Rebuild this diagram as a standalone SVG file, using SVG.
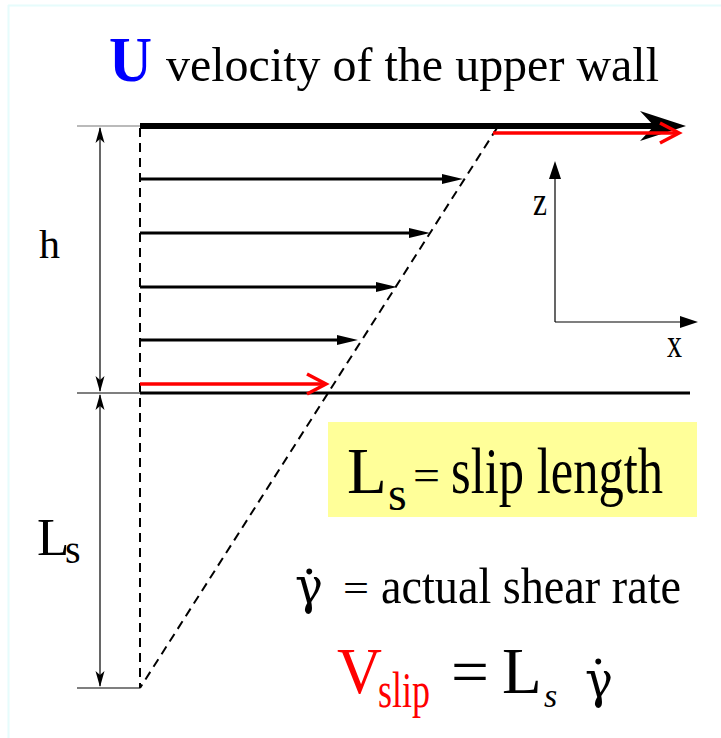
<svg xmlns="http://www.w3.org/2000/svg" width="721" height="738" viewBox="0 0 721 738">
<style>
text{font-family:"Liberation Serif","Times New Roman",serif;}
.g{font-family:"DejaVu Serif","Liberation Serif",serif;}
.thin{stroke:#000;stroke-width:1.2;fill:none}
.dash{stroke:#000;stroke-width:2;stroke-dasharray:9 6;fill:none}
.vel{stroke:#000;stroke-width:3;fill:none}
.red{stroke:#ff0000;stroke-width:3.5;fill:none}
.ah{fill:#000}
</style>
<rect width="721" height="738" fill="#fff"/>
<g id="frame">
<line x1="8.5" y1="5" x2="8.5" y2="738" stroke="#e6fcfc" stroke-width="2"/>
<line x1="8" y1="5.5" x2="721" y2="5.5" stroke="#e6fcfc" stroke-width="2"/>
</g>
<g id="title">
<text x="109" y="81" font-size="64" font-weight="bold" fill="#0000ff" textLength="43" lengthAdjust="spacingAndGlyphs">U</text>
<text x="166" y="81" font-size="49" textLength="493" lengthAdjust="spacingAndGlyphs">velocity of the upper wall</text>
</g>
<g id="connectors">
<line x1="77" y1="126" x2="140" y2="126" stroke="#777" stroke-width="1.2"/>
<line x1="77" y1="393" x2="140" y2="393" class="thin"/>
<line x1="77" y1="688" x2="140" y2="688" class="thin"/>
<line x1="140" y1="128" x2="140" y2="688" class="dash"/>
<line x1="497" y1="128" x2="140" y2="688" class="dash"/>
<line x1="100" y1="128" x2="100" y2="391" class="thin"/>
<line x1="100" y1="395" x2="100" y2="686" class="thin"/>
<polygon class="ah" points="100,127 104.5,143 100,139 95.5,143"/>
<polygon class="ah" points="100,392 104.5,376 100,380 95.5,376"/>
<polygon class="ah" points="100,394 104.5,410 100,406 95.5,410"/>
<polygon class="ah" points="100,687 104.5,671 100,675 95.5,671"/>
<line x1="140" y1="126" x2="655" y2="126" stroke="#000" stroke-width="6"/>
<polygon class="ah" points="686,126 640,111 654,126 640,141"/>
<line x1="140" y1="393" x2="690" y2="393" stroke="#000" stroke-width="3"/>
<line x1="140" y1="179" x2="445" y2="179" class="vel"/>
<polygon class="ah" points="463,179 442,174 442,184"/>
<line x1="140" y1="233" x2="412" y2="233" class="vel"/>
<polygon class="ah" points="430,233 409,228 409,238"/>
<line x1="140" y1="287" x2="379" y2="287" class="vel"/>
<polygon class="ah" points="397,287 376,282 376,292"/>
<line x1="140" y1="340" x2="340" y2="340" class="vel"/>
<polygon class="ah" points="358,340 337,335 337,345"/>
<line x1="140" y1="384" x2="325" y2="384" class="red"/>
<polyline class="red" points="307,374 326,384 307,394"/>
<line x1="493" y1="133" x2="679" y2="133" class="red"/>
<polyline class="red" points="660,123 679,133 660,143"/>
<line x1="555" y1="322" x2="555" y2="175" class="thin"/>
<polygon class="ah" points="555,161 561,179 549,179"/>
<line x1="555" y1="322" x2="683" y2="322" class="thin"/>
<polygon class="ah" points="698,322 680,316 680,328"/>
</g>
<g id="axis-labels">
<text x="533" y="215" font-size="40" textLength="14" lengthAdjust="spacingAndGlyphs">z</text>
<text x="667" y="357" font-size="40" textLength="15" lengthAdjust="spacingAndGlyphs">x</text>
</g>
<g id="label-h">
<text x="39" y="258" font-size="40" textLength="21" lengthAdjust="spacingAndGlyphs">h</text>
</g>
<g id="label-Ls">
<text x="37" y="555" font-size="53">L<tspan x="65" y="563" font-size="40">s</tspan></text>
</g>
<g id="slip-length-box">
<rect x="328" y="422" width="369" height="95" fill="#ffff99"/>
<text x="347" y="493" font-size="65">L<tspan x="388" y="510" font-size="48">s</tspan></text>
<text x="413" y="490" font-size="44" textLength="27" lengthAdjust="spacingAndGlyphs">=</text>
<text x="451" y="493" font-size="65" textLength="212" lengthAdjust="spacingAndGlyphs">slip length</text>
</g>
<g id="shear-rate">
<text class="g" x="295" y="603" font-size="50" textLength="28" lengthAdjust="spacingAndGlyphs">γ</text>
<text x="303" y="574" font-size="50">.</text>
<text x="343" y="602" font-size="40" textLength="26" lengthAdjust="spacingAndGlyphs">=</text>
<text x="381" y="603" font-size="51" textLength="300" lengthAdjust="spacingAndGlyphs">actual shear rate</text>
</g>
<g id="vslip-equation">
<text x="337" y="693" font-size="65" fill="#ff0000" textLength="45" lengthAdjust="spacingAndGlyphs">V</text>
<text x="378" y="707" font-size="50" fill="#ff0000" textLength="52" lengthAdjust="spacingAndGlyphs">slip</text>
<text x="451" y="694" font-size="65" textLength="38" lengthAdjust="spacingAndGlyphs">=</text>
<text x="502" y="693" font-size="65">L<tspan x="544" y="707" font-size="34" font-style="italic">s</tspan></text>
<text class="g" x="585" y="697" font-size="50" textLength="28" lengthAdjust="spacingAndGlyphs">γ</text>
<text x="592" y="664" font-size="50">.</text>
</g>
</svg>
